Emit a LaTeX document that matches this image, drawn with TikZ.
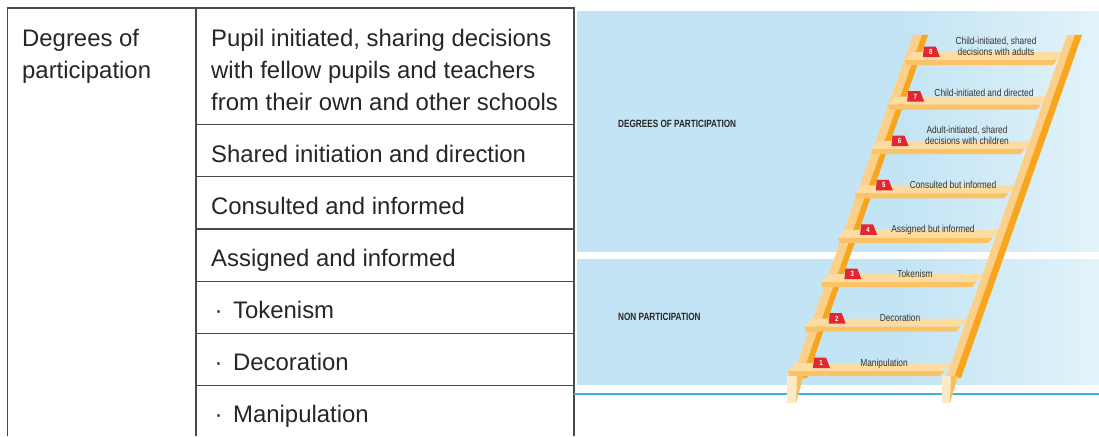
\documentclass[tikz,border=0pt]{standalone}
\usepackage{fontspec}
\setmainfont{Liberation Sans}
\newfontfamily\ladderfont[FakeStretch=0.82]{Liberation Sans}
\newfontfamily\headfont[FakeStretch=0.78]{Liberation Sans}

\definecolor{panelL}{HTML}{C3E4F4}
\definecolor{panelR}{HTML}{E2F3FA}
\definecolor{rulecyan}{HTML}{3DB4DB}
\definecolor{railLight}{HTML}{FDD08A}
\definecolor{railDark}{HTML}{F8A61E}
\definecolor{railPaleL}{HTML}{FDE9C8}
\definecolor{railPaleD}{HTML}{FBBE5A}
\definecolor{rungTop}{HTML}{FDDCA2}
\definecolor{rungFront}{HTML}{FBC266}
\definecolor{badgered}{HTML}{E32630}
\definecolor{tableline}{HTML}{4A4A4A}
\definecolor{ink}{HTML}{262626}
\definecolor{ladderink}{HTML}{333333}

\pgfdeclarehorizontalshading{panelshade}{100bp}{%
  color(0bp)=(panelL); color(25bp)=(panelL); color(56bp)=(panelL);
  color(75bp)=(panelR); color(100bp)=(panelR)}

\tikzset{
  tabletext/.style={anchor=base west, inner sep=0pt, text=ink, align=left,
    font=\fontsize{23.9}{32}\selectfont},
  bulletdot/.style={anchor=base, inner sep=0pt, text=ink,
    font=\fontsize{23.9}{32}\selectfont},
  tablerule/.style={draw=tableline, line width=1.3pt},
  headtext/.style={anchor=base west, inner sep=0pt, text=ink,
    font=\headfont\bfseries\fontsize{10.5}{12}\selectfont},
  rungtext/.style={anchor=base, inner sep=0pt, text=ladderink, align=center,
    font=\ladderfont\fontsize{10.2}{11}\selectfont},
  badgenum/.style={inner sep=0pt, text=white,
    font=\ladderfont\bfseries\fontsize{7.5}{8}\selectfont}
}

\begin{document}
\begin{tikzpicture}[x=1pt,y=-1pt]
\useasboundingbox (0,0) rectangle (1099,436);
\fill[white] (0,0) rectangle (1099,436);

% ---------- table ----------
\draw[tablerule] (7.5,436) -- (7.5,8) -- (574,8) -- (574,436);
\draw[tablerule] (196,8) -- (196,436);
\foreach \r in {124.6,176.8,229,281.4,333.4,385.8}
  \draw[tablerule] (196,\r) -- (574,\r);

\node[tabletext] (deg) at (22,78) {Degrees of\\participation};
\node[tabletext] (r1) at (211,110)
  {Pupil initiated, sharing decisions\\with fellow pupils and teachers\\from their own and other schools};
\node[tabletext] (r2) at (211,162.3) {Shared initiation and direction};
\node[tabletext] (r3) at (211,214.4) {Consulted and informed};
\node[tabletext] (r4) at (211,266.4) {Assigned and informed};
\node[bulletdot] (d5) at (218.5,318.5) {·};
\node[tabletext] (r5) at (233,318.5) {Tokenism};
\node[bulletdot] (d6) at (218.5,370.7) {·};
\node[tabletext] (r6) at (233,370.7) {Decoration};
\node[bulletdot] (d7) at (218.5,422.9) {·};
\node[tabletext] (r7) at (233,422.9) {Manipulation};

% ---------- background panels ----------
\shade[shading=panelshade] (577,12) rectangle (1099,251);
\shade[shading=panelshade] (577,259) rectangle (1099,384);
\draw[rulecyan, line width=1.5pt] (574,394) -- (1099,394);

\node[headtext] (hdeg) at (618,127.5) {DEGREES OF PARTICIPATION};
\node[headtext] (hnon) at (618,320.7) {NON PARTICIPATION};

% ---------- ladder: left rail (behind the rungs) ----------
\fill[railLight] (913,35) -- (922,35) -- (801,378) -- (792,378) -- cycle;
\fill[railDark]  (922,35) -- (928,35) -- (807,378) -- (801,378) -- cycle;
\fill[railPaleL] (787,376) -- (797,376) -- (796,403) -- (787,403) -- cycle;
\fill[railPaleD] (797,376) -- (803.5,376) -- (796,403) -- cycle;

% ---------- ladder: rungs ----------
\foreach \i in {1,...,8}{
  \pgfmathsetmacro\yy{363-(\i-1)*44.4}
  \pgfmathsetmacro\LL{788+(\i-1)*16.7}
  \pgfmathsetmacro\RR{952+(\i-1)*16.1}
  \fill[rungTop] (\LL+7,\yy) -- (\RR,\yy) -- (\RR-8,\yy+8) -- (\LL,\yy+8) -- cycle;
  \fill[rungFront] (\LL,\yy+8) -- (\RR-8,\yy+8) -- (\RR-12,\yy+13) -- (\LL+1,\yy+13) -- cycle;
}

% ---------- ladder: right rail (in front of the rung ends) ----------
\fill[railLight] (1067,35) -- (1075,35) -- (954,378) -- (946,378) -- cycle;
\fill[railDark]  (1075,35) -- (1082,35) -- (961,378) -- (954,378) -- cycle;
\fill[railPaleL] (942,376) -- (951,376) -- (950,403) -- (942,403) -- cycle;
\fill[railPaleD] (951,376) -- (958,376) -- (950,403) -- cycle;

% ---------- ladder: numbered badges ----------
\foreach \i in {1,...,8}{
  \pgfmathsetmacro\yy{363-(\i-1)*44.4}
  \pgfmathsetmacro\bx{813+(\i-1)*15.7}
  \fill[badgered] (\bx+1,\yy-5.5) -- (\bx+13,\yy-5.5) -- (\bx+17,\yy+5) -- (\bx,\yy+5) -- cycle;
  \node[badgenum] (b\i) at (\bx+8,\yy) {\i};
}

% ---------- ladder: step captions ----------
\node[rungtext] (s1) at (884,366) {Manipulation};
\node[rungtext] (s2) at (900,321.6) {Decoration};
\node[rungtext] (s3) at (915,277.2) {Tokenism};
\node[rungtext] (s4) at (933,232.6) {Assigned but informed};
\node[rungtext] (s5) at (953,188.2) {Consulted but informed};
\node[rungtext] (s6) at (967,144) {Adult-initiated, shared\\decisions with children};
\node[rungtext] (s7) at (984,96.6) {Child-initiated and directed};
\node[rungtext] (s8) at (996,55.2) {Child-initiated, shared\\decisions with adults};
\end{tikzpicture}
\end{document}
